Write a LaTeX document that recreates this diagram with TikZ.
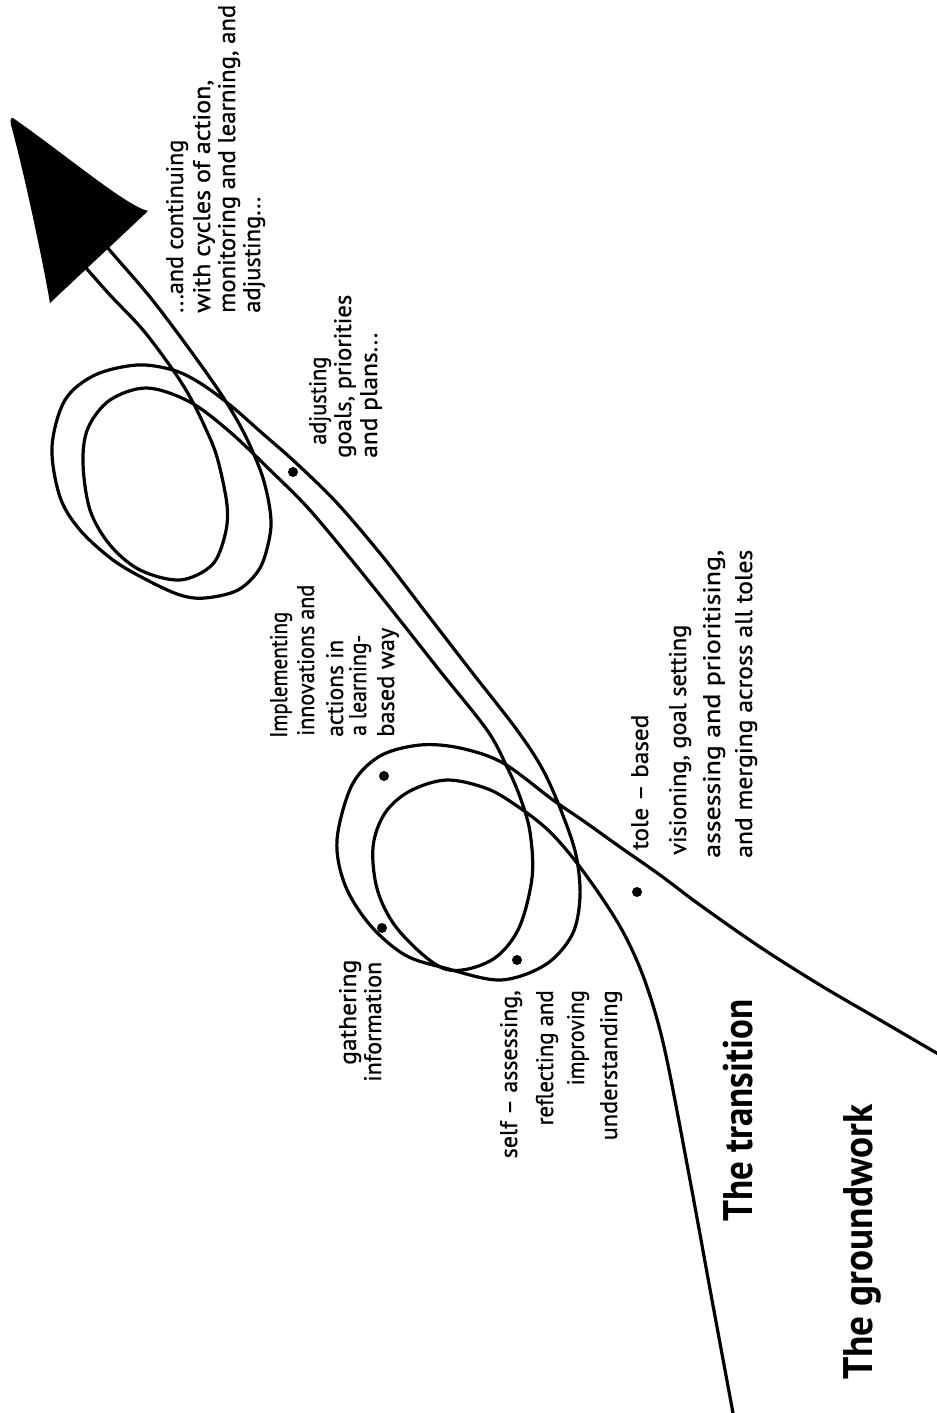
\documentclass[tikz,border=0pt]{standalone}
\usepackage{fontspec}
\setmainfont{PT Sans}
\newfontfamily\handfont{PT Sans}[RawFeature={embolden=0.8}]
\usepackage{graphicx}
\newdimen\pxu \pxu=0.75pt
\newcommand\fitto[2]{\resizebox{#1\pxu}{\height}{#2}}
\begin{document}
\begin{tikzpicture}[x=0.75pt,y=-0.75pt,
  road/.style={line width=2.4pt, line cap=round, line join=round},
  lbl/.style={rotate=90, anchor=base west, inner sep=0pt, font=\fontsize{18}{20}\selectfont\handfont},
  lblr/.style={lbl, anchor=base east},
  ttl/.style={lbl, font=\fontsize{31}{34}\selectfont\bfseries},
  dot/.style={circle, fill=black, inner sep=0pt, minimum size=7.5pt}]
\useasboundingbox (0,0) rectangle (936,1413);

% line A (inner loops)
\draw[road] plot[smooth, tension=0.55] coordinates {(733,1413) (712,1300) (690,1180) (668,1065) (655,1012) (640,968) (622,930) (600,895) (573,858) (548,830) (520,808) (488,789) (447,780) (410,791) (385,813) (373,847) (378,892) (400,932) (445,969) (490,961) (518,930) (532,878) (530,832) (520,797) (507,767) (487,730) (440,671) (395,614) (350,558) (308,508) (270,470) (230,432) (190,402) (147,388) (110,400) (88,428) (83,463) (90,510) (110,545) (140,570) (180,580) (212,565) (225,535) (227,505) (217,457) (204,425) (190,397) (173,370) (143,330) (110,295) (85,267) (62,243)};

% line B (outer loops)
\draw[road] plot[smooth, tension=0.55] coordinates {(940,1055) (880,1020) (820,985) (760,947) (700,905) (660,875) (620,847) (585,822) (553,800) (503,763) (460,748) (420,745) (380,756) (352,785) (337,840) (345,885) (370,925) (405,955) (445,968) (500,980) (545,965) (572,935) (580,897) (576,855) (562,813) (543,770) (517,730) (471,671) (427,614) (383,557) (337,503) (295,462) (262,433) (230,405) (200,383) (173,370) (137,365) (95,375) (65,400) (52,447) (60,497) (80,530) (113,560) (147,580) (180,595) (205,598) (238,590) (260,568) (270,535) (270,510) (262,475) (245,435) (223,397) (190,350) (150,297) (107,247) (82,215)};

% arrow head
\fill (13,118) .. controls (70,158) and (125,205) .. (148,211) -- (50,303) .. controls (43,262) and (24,172) .. (11,125) .. controls (10,120) and (11,117) .. (13,118) -- cycle;

% dots
\node[dot] (d1) at (293,472) {};
\node[dot] (d2) at (384,776) {};
\node[dot] (d3) at (382,928) {};
\node[dot] (d4) at (517,960) {};
\node[dot] (d5) at (637,892) {};

% texts
\node[lbl] (c1) at (183,313) {\fitto{173}{...and continuing}};
\node[lbl] (c2) at (210,313) {\fitto{233}{with cycles of action,}};
\node[lbl] (c3) at (235,313) {\fitto{308}{monitoring and learning, and}};
\node[lbl] (c4) at (260,313) {\fitto{116}{adjusting...}};

\node[lbl] (a1) at (326,445) {\fitto{88}{adjusting}};
\node[lbl] (a2) at (351,458) {\fitto{163}{goals, priorities}};
\node[lbl] (a3) at (377,458) {\fitto{125}{and plans...}};

\node[lbl] (i1) at (287,738) {\fitto{126}{Implementing}};
\node[lbl] (i2) at (314,736) {\fitto{151}{innovations and}};
\node[lbl] (i3) at (343,737) {\fitto{97}{actions in}};
\node[lbl] (i4) at (366,736) {\fitto{101}{a learning-}};
\node[lbl] (i5) at (394,737) {\fitto{109}{based way}};

\node[lbl] (r1) at (648,850) {\fitto{135}{tole – based}};
\node[lbl] (r2) at (686,855) {\fitto{230}{visioning, goal setting}};
\node[lbl] (r3) at (720,858) {\fitto{308}{assessing and prioritising,}};
\node[lbl] (r4) at (752,858) {\fitto{308}{and merging across all toles}};

\node[lbl] (g1) at (356,1065) {\fitto{105}{gathering}};
\node[lbl] (g2) at (381,1082) {\fitto{120}{information}};

\node[lblr] (s1) at (517,990) {\fitto{168}{self – assessing,}};
\node[lblr] (s2) at (553,990) {\fitto{135}{reflecting and}};
\node[lblr] (s3) at (584,990) {\fitto{95}{improving}};
\node[lblr] (s4) at (617,990) {\fitto{150}{understanding}};

\node[ttl] (t1) at (752,1222) {\fitto{222}{The transition}};
\node[ttl] (t2) at (872,1380) {\fitto{275}{The groundwork}};
\end{tikzpicture}
\end{document}
